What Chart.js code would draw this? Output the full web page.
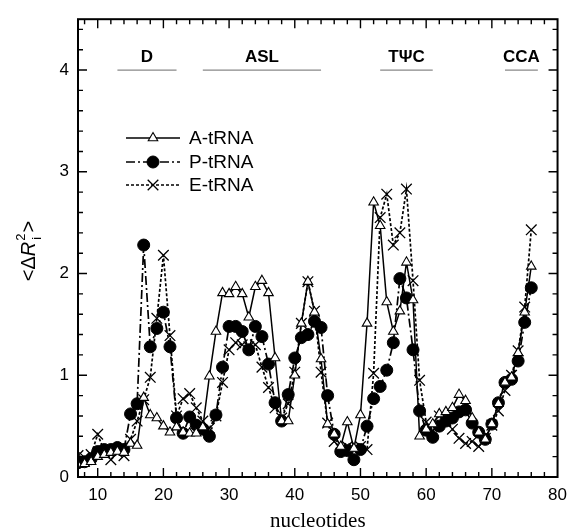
<!DOCTYPE html>
<html>
<head>
<meta charset="utf-8">
<script src="https://cdn.jsdelivr.net/npm/chart.js@4.4.1/dist/chart.umd.min.js"></script>
<style>
  body { margin: 0; background: #fff; }
  #wrap { width: 575px; height: 532px; position: relative; }
</style>
</head>
<body>
<div id="wrap"><canvas id="chart"></canvas></div>
<script>
// nucleotide positions (x)
const nucleotides = [7, 8, 9, 10, 11, 12, 13, 14, 15, 16, 17, 18, 19, 20, 21, 22, 23, 24, 25, 26,
    27, 28, 29, 30, 31, 32, 33, 34, 35, 36, 37, 38, 39, 40, 41, 42, 43, 44, 45, 46,
    47, 48, 49, 50, 51, 52, 53, 54, 55, 56, 57, 58, 59, 60, 61, 62, 63, 64, 65, 66,
    67, 68, 69, 70, 71, 72, 73, 74, 75, 76];

const aTRNA = [0.12, 0.13, 0.15, 0.20, 0.22, 0.24, 0.25, 0.24, 0.33, 0.31, 0.78, 0.61, 0.58, 0.50, 0.44, 0.49, 0.44, 0.43, 0.43, 0.49,
    0.99, 1.43, 1.81, 1.80, 1.87, 1.80, 1.57, 1.87, 1.93, 1.81, 1.17, 0.55, 0.55, 1.00, 1.51, 1.92, 1.62, 1.16, 0.52, 0.42,
    0.30, 0.54, 0.28, 0.61, 1.51, 2.70, 2.47, 1.72, 1.43, 1.63, 2.11, 1.74, 0.40, 0.47, 0.52, 0.62, 0.64, 0.68, 0.81, 0.75,
    0.58, 0.44, 0.37, 0.52, 0.72, 0.93, 0.98, 1.22, 1.62, 2.07];

const pTRNA = [0.14, 0.15, 0.18, 0.25, 0.27, 0.27, 0.29, 0.27, 0.62, 0.72, 2.28, 1.28, 1.46, 1.62, 1.28, 0.58, 0.43, 0.59, 0.51, 0.47,
    0.40, 0.61, 1.08, 1.48, 1.48, 1.43, 1.25, 1.48, 1.38, 1.11, 0.73, 0.55, 0.81, 1.17, 1.37, 1.40, 1.53, 1.47, 0.80, 0.42,
    0.25, 0.26, 0.17, 0.27, 0.50, 0.77, 0.89, 1.05, 1.32, 1.95, 1.76, 1.25, 0.65, 0.46, 0.39, 0.50, 0.55, 0.58, 0.64, 0.66,
    0.53, 0.44, 0.37, 0.52, 0.73, 0.93, 0.96, 1.14, 1.52, 1.86];

const eTRNA = [0.21, 0.19, 0.22, 0.42, 0.25, 0.17, 0.24, 0.21, 0.37, 0.55, 0.76, 0.98, 1.56, 2.18, 1.39, 0.60, 0.77, 0.82, 0.68, 0.55,
    0.48, 0.60, 0.93, 1.25, 1.32, 1.30, 1.28, 1.30, 1.08, 0.88, 0.68, 0.58, 0.72, 1.03, 1.51, 1.92, 1.63, 1.03, 0.53, 0.35,
    0.28, 0.30, 0.28, 0.30, 0.27, 1.02, 2.55, 2.78, 2.28, 2.40, 2.83, 1.93, 0.95, 0.54, 0.45, 0.60, 0.55, 0.47, 0.38, 0.33,
    0.35, 0.30, 0.38, 0.51, 0.65, 0.85, 1.00, 1.24, 1.67, 2.43];

// axis ticks
const xTicks = [10, 20, 30, 40, 50, 60, 70, 80];
const yTicks = [0, 1, 2, 3, 4];

// tRNA regions marked along the top
const regionNames = ['D', 'ASL', 'T\u03A8C', 'CCA'];
const regionStart = [13, 26, 53, 72];
const regionEnd = [22, 44, 61, 77];
const regionLevel = 4;

const seriesNames = ['A-tRNA', 'P-tRNA', 'E-tRNA'];

const toPoints = (vals) => vals.map((v, i) => ({ x: nucleotides[i], y: v }));

const SANS = "'Liberation Sans', Arial, sans-serif";
const SERIF = "'Liberation Serif', 'Times New Roman', serif";

Chart.defaults.font.family = SANS;
Chart.defaults.color = '#000';

const datasets = [
    {
        label: seriesNames[0],
        data: toPoints(aTRNA),
        borderColor: '#000',
        borderWidth: 1.5,
        pointStyle: 'triangle',
        pointRadius: 5.5,
        pointBackgroundColor: '#fff',
        pointBorderColor: '#000',
        pointBorderWidth: 1.1
    },
    {
        label: seriesNames[1],
        data: toPoints(pTRNA),
        borderColor: '#000',
        borderWidth: 1.7,
        borderDash: [9, 3, 2, 3],
        pointStyle: 'circle',
        pointRadius: 6,
        pointBackgroundColor: '#000',
        pointBorderColor: '#000',
        pointBorderWidth: 1
    },
    {
        label: seriesNames[2],
        data: toPoints(eTRNA),
        borderColor: '#000',
        borderWidth: 1.7,
        borderDash: [3, 2],
        pointStyle: 'crossRot',
        pointRadius: 7.5,
        pointBackgroundColor: '#000',
        pointBorderColor: '#000',
        pointBorderWidth: 1.3
    }
];

// inward ticks, full frame, region bars, legend and axis titles
const decorations = {
    id: 'decorations',
    afterDatasetsDraw(chart) {
        const { ctx, chartArea: a, scales: { x, y } } = chart;
        ctx.save();
        ctx.strokeStyle = '#000';

        // minor + major ticks on all four sides
        ctx.lineWidth = 1.4;
        ctx.beginPath();
        for (let v = 8; v < 80; v += 2) {
            const px = x.getPixelForValue(v);
            const len = v % 10 === 0 ? 9 : 5;
            ctx.moveTo(px, a.bottom); ctx.lineTo(px, a.bottom - len);
            ctx.moveTo(px, a.top); ctx.lineTo(px, a.top + len);
        }
        for (let k = 1; k < 23; k++) {
            const v = k * 0.2;
            const py = y.getPixelForValue(v);
            const len = k % 5 === 0 ? 9 : 5;
            ctx.moveTo(a.left, py); ctx.lineTo(a.left + len, py);
            ctx.moveTo(a.right, py); ctx.lineTo(a.right - len, py);
        }
        ctx.stroke();

        // frame
        ctx.lineWidth = 2;
        ctx.strokeRect(a.left, a.top, a.right - a.left, a.bottom - a.top);

        // region bars
        ctx.strokeStyle = '#888';
        ctx.lineWidth = 1.2;
        ctx.font = 'bold 17px ' + SANS;
        ctx.fillStyle = '#000';
        ctx.textAlign = 'center';
        ctx.textBaseline = 'alphabetic';
        const ly = y.getPixelForValue(regionLevel);
        regionNames.forEach((name, i) => {
            const x0 = x.getPixelForValue(regionStart[i]);
            const x1 = x.getPixelForValue(regionEnd[i]);
            ctx.beginPath();
            ctx.moveTo(x0, ly); ctx.lineTo(x1, ly);
            ctx.stroke();
            ctx.fillText(name, (x0 + x1) / 2, ly - 8);
        });

        // legend
        const rows = [138, 162, 185];
        ctx.font = '19px ' + SANS;
        ctx.textAlign = 'left';
        ctx.textBaseline = 'middle';
        chart.data.datasets.forEach((ds, i) => {
            const ry = rows[i];
            ctx.strokeStyle = '#000';
            ctx.lineWidth = ds.borderWidth;
            ctx.setLineDash(ds.borderDash || []);
            ctx.beginPath();
            ctx.moveTo(126, ry); ctx.lineTo(180, ry);
            ctx.stroke();
            ctx.setLineDash([]);
            ctx.fillStyle = ds.pointBackgroundColor;
            ctx.lineWidth = ds.pointBorderWidth;
            Chart.helpers.drawPoint(ctx, {
                pointStyle: ds.pointStyle, radius: ds.pointRadius,
                borderWidth: ds.pointBorderWidth, rotation: 0
            }, 153, ry);
            ctx.fillStyle = '#000';
            ctx.fillText(ds.label, 189, ry + 1);
        });

        // x title
        ctx.font = '21px ' + SERIF;
        ctx.textAlign = 'center';
        ctx.textBaseline = 'middle';
        ctx.fillText('nucleotides', (a.left + a.right) / 2, 521);

        // y title  <ΔR^2_i>
        ctx.translate(35, 251);
        ctx.rotate(-Math.PI / 2);
        ctx.textBaseline = 'alphabetic';
        ctx.textAlign = 'left';
        const big = '20px ' + SANS;
        const bigIt = 'italic 20px ' + SANS;
        const small = '13px ' + SANS;
        ctx.font = big;
        const w1 = ctx.measureText('<\u0394').width;
        ctx.font = bigIt;
        const w2 = ctx.measureText('R').width;
        ctx.font = small;
        const w3 = ctx.measureText('2').width;
        ctx.font = big;
        const w4 = ctx.measureText('>').width;
        let cx = -(w1 + w2 + w3 + 2 + w4) / 2;
        ctx.font = big;
        ctx.fillText('<\u0394', cx, 0); cx += w1;
        ctx.font = bigIt;
        ctx.fillText('R', cx, 0); cx += w2;
        ctx.font = small;
        ctx.fillText('2', cx + 1, -10);
        ctx.fillText('i', cx + 2, 6);
        cx += w3 + 2;
        ctx.font = big;
        ctx.fillText('>', cx, 0);

        ctx.restore();
    }
};

new Chart(document.getElementById('chart'), {
    type: 'line',
    data: { datasets: datasets },
    options: {
        responsive: true,
        maintainAspectRatio: false,
        animation: false,
        layout: { padding: { left: 0, top: 14, right: 11, bottom: 0 } },
        plugins: {
            legend: { display: false },
            tooltip: { enabled: false }
        },
        elements: { line: { tension: 0 } },
        scales: {
            x: {
                type: 'linear',
                min: 7,
                max: 80,
                afterBuildTicks: (scale) => { scale.ticks = xTicks.map(v => ({ value: v })); },
                afterFit: (scale) => { scale.height = 55; },
                grid: { display: false, drawTicks: false },
                border: { display: false },
                ticks: { padding: 8, maxRotation: 0, font: { size: 17 }, color: '#000' }
            },
            y: {
                type: 'linear',
                min: 0,
                max: 4.5,
                afterBuildTicks: (scale) => { scale.ticks = yTicks.map(v => ({ value: v })); },
                afterFit: (scale) => { scale.width = 78; },
                grid: { display: false, drawTicks: false },
                border: { display: false },
                ticks: { padding: 9, font: { size: 17 }, color: '#000' }
            }
        }
    },
    plugins: [decorations]
});
</script>
</body>
</html>
